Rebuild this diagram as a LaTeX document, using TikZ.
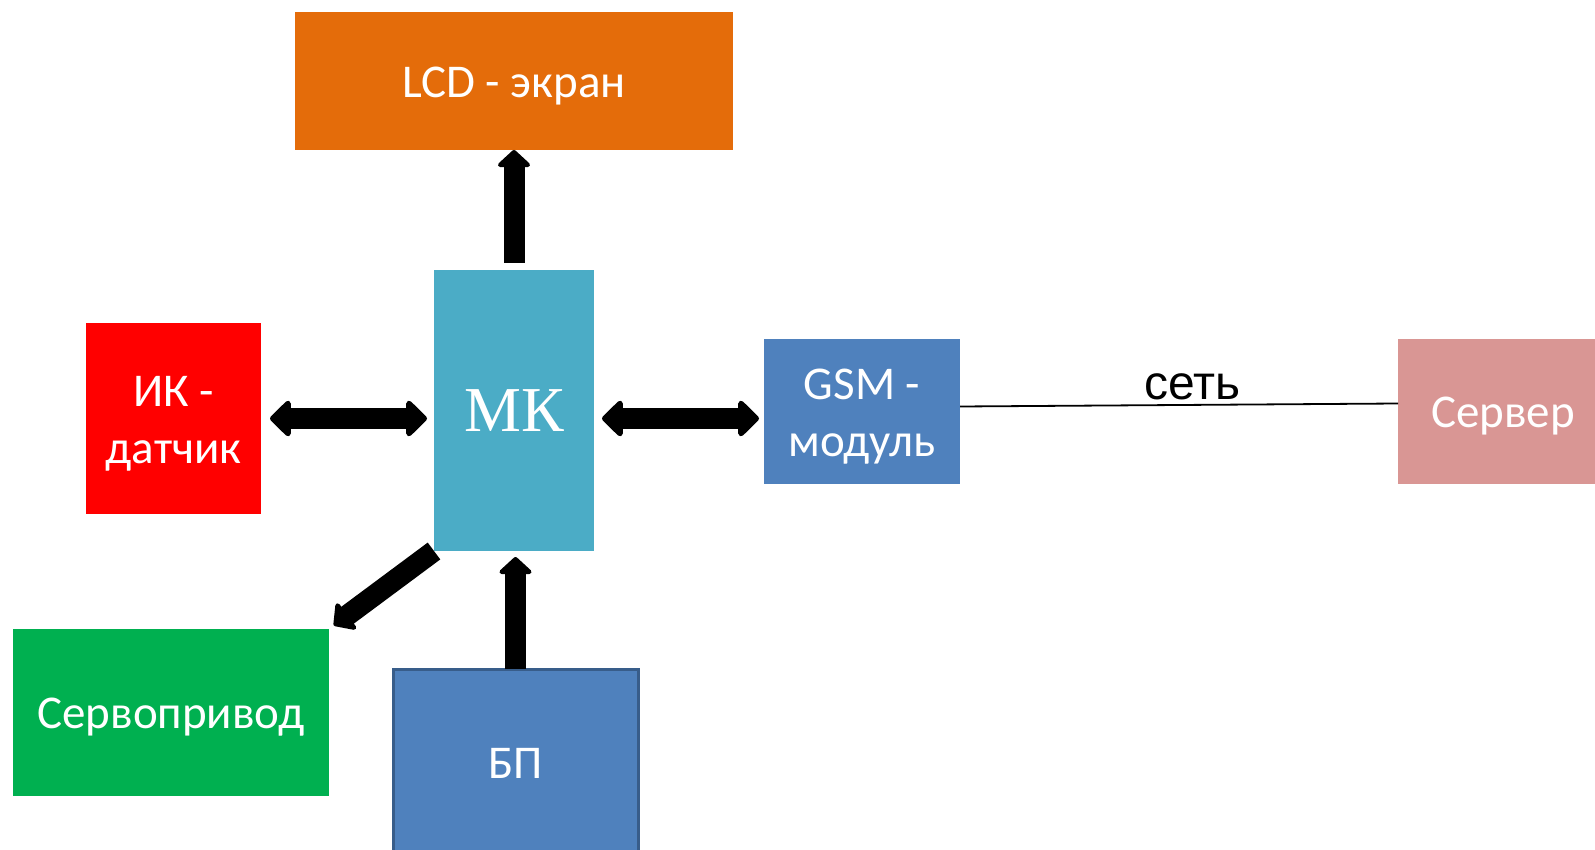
\documentclass[tikz,border=0pt]{standalone}
\usepackage{fontspec}
\setmainfont{Carlito}
\newfontfamily\arialfont{Liberation Sans}
\newfontfamily\timesfont{Liberation Serif}
\usetikzlibrary{arrows.meta}

\definecolor{lcdorange}{HTML}{E46C0A}
\definecolor{mkblue}{HTML}{4BACC6}
\definecolor{ikred}{HTML}{FF0000}
\definecolor{servogreen}{HTML}{00B050}
\definecolor{modblue}{HTML}{4F81BD}
\definecolor{modborder}{HTML}{385D8A}
\definecolor{serverpink}{HTML}{D99694}

\begin{document}
\begin{tikzpicture}[x=1pt,y=-1pt,
	box/.style={rectangle,inner sep=0pt,outer sep=0pt,anchor=north west},
	boxtext/.style={text=white,align=center,inner sep=0pt,yshift=-5pt,font=\fontsize{47}{57}\selectfont},
	onearrow/.style={line width=21pt,-{Triangle[round,width=38pt,length=18pt]}},
	twoarrow/.style={line width=21pt,{Triangle[round,width=42pt,length=22pt]}-{Triangle[round,width=42pt,length=22pt]}}]
	\useasboundingbox (0,0) rectangle (1595,850);
	\clip (0,0) rectangle (1595,850);

	% blocks
	\node[box,fill=lcdorange,minimum width=438pt,minimum height=138pt,label={[boxtext]center:LCD - экран}] (lcd) at (295,12) {};
	\node[box,fill=mkblue,minimum width=160pt,minimum height=281pt,text=white,font=\timesfont\fontsize{64}{70}\selectfont] (mk) at (434,270) {МК};
	\node[box,fill=ikred,minimum width=175pt,minimum height=191pt,label={[boxtext]center:ИК -\\датчик}] (ik) at (86,323) {};
	\node[box,fill=servogreen,minimum width=316pt,minimum height=167pt,label={[boxtext]center:Сервопривод}] (servo) at (13,629) {};
	\node[box,fill=modblue,draw=modborder,line width=3pt,minimum width=245pt,minimum height=188pt,label={[boxtext,yshift=5pt]center:БП}] (bp) at (393,669) {};
	\node[box,fill=modblue,minimum width=196pt,minimum height=145pt,label={[boxtext]center:GSM -\\модуль}] (gsm) at (764,339) {};
	\node[box,fill=serverpink,minimum width=210pt,minimum height=145pt,label={[boxtext]center:Сервер}] (server) at (1398,339) {};

	% links
	\draw[onearrow,shorten <=7pt] (mk.north) -- (lcd.south);
	\draw[onearrow,shorten >=6pt] (bp.north) -- (bp.north |- mk.south);
	\draw[onearrow,shorten >=6pt] (mk.south west) -- (servo.north east);
	\draw[twoarrow,shorten <=9pt,shorten >=7pt] (ik.east) -- (ik.east -| mk.west);
	\draw[twoarrow,shorten <=8pt,shorten >=5pt] (ik.east -| mk.east) -- (ik.east -| gsm.west);
	\draw[line width=1.8pt] ([yshift=5pt]gsm.east) -- node[pos=0.53,above=1pt,font=\arialfont\fontsize{48}{54}\selectfont] (net) {сеть} ([yshift=8pt]server.west);
\end{tikzpicture}
\end{document}
